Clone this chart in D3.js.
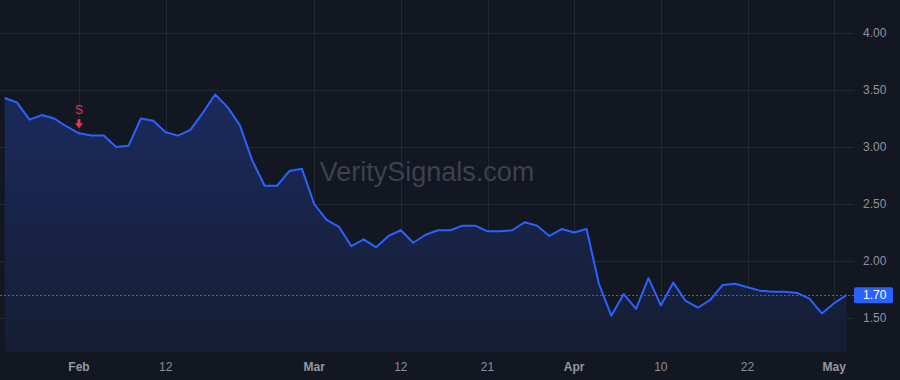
<!DOCTYPE html>
<html>
<head>
<meta charset="utf-8">
<script src="https://cdn.jsdelivr.net/npm/d3@7"></script>
<style>
  html, body { margin: 0; padding: 0; background: #131722; }
  svg { display: block; font-family: "Liberation Sans", Arial, sans-serif; }
</style>
</head>
<body>
<svg id="chart"></svg>
<script>
// closing prices, one per trading bar
const prices = [
  3.43, 3.39, 3.24, 3.28, 3.25, 3.18, 3.12, 3.10, 3.10, 3.00,
  3.01, 3.25, 3.23, 3.13, 3.10, 3.15, 3.30, 3.46, 3.35, 3.19,
  2.88, 2.66, 2.66, 2.79, 2.81, 2.50, 2.36, 2.30, 2.13, 2.19,
  2.12, 2.22, 2.27, 2.16, 2.23, 2.27, 2.27, 2.31, 2.31, 2.26,
  2.26, 2.27, 2.34, 2.31, 2.22, 2.28, 2.25, 2.28, 1.80, 1.52,
  1.71, 1.58, 1.85, 1.61, 1.81, 1.65, 1.59, 1.66, 1.79, 1.80,
  1.77, 1.74, 1.73, 1.73, 1.72, 1.67, 1.54, 1.63, 1.70
];

// time axis ticks (bar index -> label)
const tickBars = [6, 13, 25, 32, 39, 46, 53, 60, 67];
const tickLabels = ["Feb", "12", "Mar", "12", "21", "Apr", "10", "22", "May"];
const monthLabels = ["Feb", "Mar", "Apr", "May"];

const priceTicks = [1.5, 2.0, 2.5, 3.0, 3.5, 4.0];
const lastPrice = 1.70;

// signal markers
const signalBars = [6];
const signalLabels = ["S"];

const width = 900, height = 380;
const plotRight = 854, plotBottom = 352;

const svg = d3.select("#chart")
  .attr("width", width)
  .attr("height", height);

svg.append("rect")
  .attr("width", width)
  .attr("height", height)
  .attr("fill", "#131722");

const x = d3.scaleLinear()
  .domain([0, 61])
  .range([4.7, 4.7 + 61 * 12.38]);

const y = d3.scaleLinear()
  .domain([1.5, 4.0])
  .range([318, 33]);

// grid
const grid = svg.append("g");
grid.selectAll(".hgrid")
  .data(priceTicks)
  .join("line")
  .attr("x1", 0).attr("x2", plotRight)
  .attr("y1", d => y(d)).attr("y2", d => y(d))
  .attr("stroke", "#232734").attr("stroke-width", 1)
  .attr("shape-rendering", "crispEdges");

grid.selectAll(".vgrid")
  .data(tickBars)
  .join("line")
  .attr("x1", d => Math.round(x(d)) + 0.5).attr("x2", d => Math.round(x(d)) + 0.5)
  .attr("y1", 0).attr("y2", plotBottom)
  .attr("stroke", "#232734").attr("stroke-width", 1);

// area gradient
const defs = svg.append("defs");
const grad = defs.append("linearGradient")
  .attr("id", "areaGrad")
  .attr("x1", 0).attr("y1", 0).attr("x2", 0).attr("y2", 1);
grad.append("stop").attr("offset", "0%").attr("stop-color", "#1a2a5c");
grad.append("stop").attr("offset", "100%").attr("stop-color", "#161d33");

const area = d3.area()
  .x((d, i) => x(i))
  .y0(plotBottom)
  .y1(d => y(d));

svg.append("path")
  .datum(prices)
  .attr("fill", "url(#areaGrad)")
  .attr("d", area);

// watermark
svg.append("text")
  .attr("x", 427)
  .attr("y", 181)
  .attr("text-anchor", "middle")
  .attr("fill", "#3d414d")
  .style("font-size", "27px")
  .text("VeritySignals.com");

// last price dotted line
svg.append("line")
  .attr("x1", 0).attr("x2", plotRight)
  .attr("y1", Math.round(y(lastPrice)) + 0.5).attr("y2", Math.round(y(lastPrice)) + 0.5)
  .attr("stroke", "#2962ff")
  .attr("stroke-width", 1)
  .attr("stroke-dasharray", "2,2");

// price line
const line = d3.line()
  .x((d, i) => x(i))
  .y(d => y(d));

svg.append("path")
  .datum(prices)
  .attr("fill", "none")
  .attr("stroke", "#2962ff")
  .attr("stroke-width", 2)
  .attr("stroke-linejoin", "round")
  .attr("d", line);

// signal markers
const sig = svg.selectAll(".signal")
  .data(signalBars)
  .join("g")
  .attr("transform", d => `translate(${x(d)},${y(prices[d])})`);

sig.append("text")
  .attr("y", -19)
  .attr("text-anchor", "middle")
  .attr("fill", "#f23645")
  .style("font-size", "12px")
  .text((d, i) => signalLabels[i]);

sig.append("path")
  .attr("d", "M-1.5,-14 L1.5,-14 L1.5,-10 L4,-10 L0,-5 L-4,-10 L-1.5,-10 Z")
  .attr("fill", "#f23645");

// right price axis
svg.selectAll(".ylabel")
  .data(priceTicks)
  .join("text")
  .attr("x", 863)
  .attr("y", d => y(d))
  .attr("dy", "0.35em")
  .attr("fill", "#8f939e")
  .style("font-size", "12px")
  .text(d => d3.format(".2f")(d));

// last price tag
svg.append("rect")
  .attr("x", 854)
  .attr("y", y(lastPrice) - 8)
  .attr("width", 39)
  .attr("height", 16)
  .attr("rx", 2)
  .attr("fill", "#2962ff");

svg.append("text")
  .attr("x", 863)
  .attr("y", y(lastPrice))
  .attr("dy", "0.35em")
  .attr("fill", "#ffffff")
  .style("font-size", "12px")
  .text(d3.format(".2f")(lastPrice));

// time axis
svg.selectAll(".xlabel")
  .data(tickBars)
  .join("text")
  .attr("x", d => x(d))
  .attr("y", 367)
  .attr("dy", "0.35em")
  .attr("text-anchor", "middle")
  .attr("fill", (d, i) => monthLabels.includes(tickLabels[i]) ? "#9598a1" : "#8a8e99")
  .style("font-size", "12px")
  .style("font-weight", (d, i) => monthLabels.includes(tickLabels[i]) ? "bold" : "normal")
  .text((d, i) => tickLabels[i]);
</script>
</body>
</html>
